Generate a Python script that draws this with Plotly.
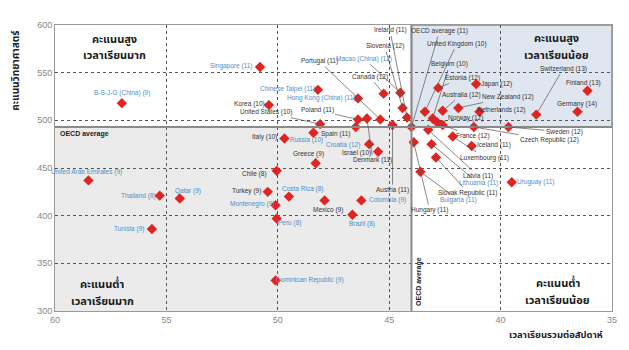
import plotly.graph_objects as go

# ---- data ----
countries = [
    "B-S-J-G (China) (9)", "Singapore (11)", "Chinese Taipei (11)", "Korea (10)",
    "Hong Kong (China) (11)", "United States (10)", "Poland (11)", "Denmark (11)",
    "Portugal (11)", "Macao (China) (12)", "Canada (12)", "Slovenia (12)",
    "Ireland (11)", "Austria (11)", "Spain (11)", "Italy (10)", "Russia (10)",
    "Croatia (12)", "Israel (10)", "Greece (9)", "Chile (8)", "Turkey (9)",
    "Costa Rica (8)", "Montenegro (9)", "Peru (8)", "Mexico (9)", "Brazil (8)",
    "Colombia (9)", "Dominican Republic (9)", "United Arab Emirates (9)",
    "Thailand (8)", "Qatar (9)", "Tunisia (9)", "OECD average (11)",
    "United Kingdom (10)", "Belgium (10)", "Estonia (12)", "Japan (12)",
    "Australia (12)", "New Zealand (12)", "Netherlands (12)", "Norway (12)",
    "Switzerland (13)", "Finland (13)", "Germany (14)", "Sweden (12)",
    "Czech Republic (12)", "France (12)", "Iceland (11)", "Luxembourg (11)",
    "Latvia (11)", "Lithuania (11)", "Slovak Republic (11)", "Bulgaria (11)",
    "Hungary (11)", "Uruguay (11)",
]
learning_hours = [
    57.0, 50.8, 48.2, 50.4, 46.4, 48.1, 46.4, 46.0, 45.4, 44.5, 45.25, 44.4,
    44.2, 44.85, 46.5, 49.7, 48.4, 45.9, 45.5, 48.3, 50.05, 50.45, 49.5, 50.1,
    50.05, 47.9, 46.65, 46.25, 50.1, 58.5, 55.3, 54.4, 55.65, 44.0,
    43.4, 43.05, 42.8, 41.1, 42.6, 41.9, 40.95, 42.85, 38.4, 36.1, 36.55,
    39.65, 41.2, 42.6, 41.3, 42.15, 43.25, 43.1, 42.9, 43.6, 43.9, 39.5,
]
science_score = [
    518, 556, 532, 516, 523, 496, 501, 502, 501, 529, 528, 513,
    503, 495, 493, 481, 487, 475, 467, 455, 447, 425, 420, 411,
    397, 416, 401, 416, 332, 437, 421, 418, 386, 493,
    509, 502, 534, 538, 510, 513, 509, 498, 506, 531, 509,
    493, 493, 495, 473, 483, 490, 475, 461, 446, 477, 435,
]
partner = [
    1, 1, 1, 0, 1, 0, 0, 0, 0, 1, 0, 0, 0, 0, 0, 0, 1, 1, 0, 0, 0, 0, 1, 1,
    1, 0, 1, 1, 1, 1, 1, 1, 1, 0, 0, 0, 0, 0, 0, 0, 0, 0, 0, 0, 0, 0, 0, 0,
    0, 0, 0, 1, 0, 1, 0, 1,
]
oecd_hours = 44.0
oecd_score = 493

x_ticks = [60, 55, 50, 45, 40, 35]
y_ticks = [300, 350, 400, 450, 500, 550, 600]

quadrant_lines = [
    ("คะแนนสูง", "เวลาเรียนมาก"),
    ("คะแนนสูง", "เวลาเรียนน้อย"),
    ("คะแนนต่ำ", "เวลาเรียนมาก"),
    ("คะแนนต่ำ", "เวลาเรียนน้อย"),
]

# ---- label placement (pixel offsets of label centre from marker; leader line flag) ----
label_dx = [
    0, -28, -30, -19, -37, -54, -41, 6, -61, -36, -14, -18,
    -17, 0, -20, -20, -7, -26, -22, -7, -22, -21, 14, -24,
    13, 3, 10, 26, 34, -2, -21, 8, -23, 28,
    32, 17, 24, 20, 19, 50, 22, 28, 27, -4, 0,
    56, 76, 30, 22, 32, 50, 47, 32, 38, 16, 24,
]
label_dy = [
    -10, -1, -1, -1, 0, -12, -9, 42, -58, -34, -17, -62,
    -87, 65, 7, -1, 7, 1, 1, -9, 3, -1, -8, -1,
    4, 10, 9, 0, 0, -8, 0, -8, 0, -96,
    -68, -54, -10, 0, -16, -11, -2, -4, -46, -8, -8,
    5, 13, 11, -1, 21, 46, 39, 35, 28, 68, 0,
]
leader = [
    0, 0, 0, 0, 0, 1, 1, 1, 1, 1, 1, 1, 1, 1, 0, 0, 0, 0, 0, 0, 0, 0, 0, 0,
    0, 0, 0, 0, 0, 0, 0, 0, 0, 1, 1, 1, 1, 0, 1, 1, 0, 1, 1, 0, 0, 1, 1, 1,
    0, 1, 1, 1, 1, 1, 1, 0,
]
# caption positions (paper fractions): x, y of first line, y of second line
quadrant_pos = [(0.1075, 0.948, 0.892), (0.900, 0.952, 0.895),
                (0.085, 0.093, 0.034), (0.903, 0.097, 0.038)]

FONT = "Liberation Sans, Arial, sans-serif"
THAI = "Noto Sans Thai, Loma, Tahoma, DejaVu Sans, sans-serif"
BLUE = "#4a90c8"
DARK = "#333333"
LBL = 6.5

fig = go.Figure()

# shaded quadrants
fig.add_shape(type="rect", x0=oecd_hours, x1=35, y0=oecd_score, y1=600,
              fillcolor="#dfe6f0", line=dict(color="#8a8a8a", width=1.5), layer="below")
fig.add_shape(type="rect", x0=60, x1=oecd_hours, y0=300, y1=oecd_score,
              fillcolor="#ebebeb", line=dict(width=0), layer="below")
# OECD average lines
fig.add_shape(type="line", x0=60, x1=35, y0=oecd_score, y1=oecd_score,
              line=dict(color="#8a8a8a", width=2))
fig.add_shape(type="line", x0=oecd_hours, x1=oecd_hours, y0=300, y1=600,
              line=dict(color="#8a8a8a", width=2))

fig.add_trace(go.Scatter(
    x=learning_hours, y=science_score, mode="markers",
    marker=dict(symbol="diamond", size=8, color="#e3231f"),
    hovertext=countries, showlegend=False, cliponaxis=False,
))

anns = []
for name, hx, sy, dx, dy, ld, pt in zip(countries, learning_hours, science_score,
                                         label_dx, label_dy, leader, partner):
    col = BLUE if pt else DARK
    if ld:
        anns.append(dict(x=hx, y=sy, xref="x", yref="y", text=name, showarrow=True,
                         ax=dx, ay=dy, arrowhead=0, arrowwidth=0.7, arrowcolor="#555",
                         standoff=0, font=dict(family=FONT, size=LBL, color=col)))
    else:
        anns.append(dict(x=hx, y=sy, xref="x", yref="y", text=name, showarrow=False,
                         xshift=dx, yshift=-dy, font=dict(family=FONT, size=LBL, color=col)))

# quadrant captions (two separate lines each)
qfont = dict(family=THAI, size=11, color="#1a1a1a")
for (l1, l2), (qx, qy1, qy2) in zip(quadrant_lines, quadrant_pos):
    for t, qy in ((l1, qy1), (l2, qy2)):
        anns.append(dict(x=qx, y=qy, xref="paper", yref="paper", text=f"<b>{t}</b>",
                         showarrow=False, xanchor="center", yanchor="middle", font=qfont))

anns.append(dict(x=60, y=oecd_score, xref="x", yref="y", text="<b>OECD average</b>",
                 showarrow=False, xanchor="left", yanchor="top", xshift=3, yshift=-1,
                 font=dict(family=FONT, size=7, color="#222")))
anns.append(dict(x=oecd_hours, y=300, xref="x", yref="y", text="<b>OECD average</b>",
                 showarrow=False, textangle=-90, xanchor="left", yanchor="bottom",
                 xshift=1, yshift=3, font=dict(family=FONT, size=7, color="#222")))

anns.append(dict(x=-0.07, y=0.84, xref="paper", yref="paper",
                 text="<b>คะแนนวิทยาศาสตร์</b>", showarrow=False, textangle=-90,
                 xanchor="center", yanchor="middle",
                 font=dict(family=THAI, size=10, color="#222")))
anns.append(dict(x=0.9, y=-0.085, xref="paper", yref="paper",
                 text="<b>เวลาเรียนรวมต่อสัปดาห์</b>", showarrow=False,
                 xanchor="center", yanchor="middle",
                 font=dict(family=THAI, size=9.5, color="#222")))

# page body has an 8px margin, so the figure is sized/margined to land the plot
# area where it sits in the 629x350 reference
fig.update_layout(
    width=621, height=342,
    margin=dict(l=47, r=16, t=13, b=39),
    paper_bgcolor="white", plot_bgcolor="white",
    annotations=anns,
    xaxis=dict(range=[60, 35], tickvals=x_ticks, showgrid=True, gridcolor="#555",
               griddash="dot", gridwidth=1, zeroline=False, showline=True,
               linecolor="#999", linewidth=1, mirror=True, ticks="",
               tickfont=dict(family=FONT, size=9, color="#888")),
    yaxis=dict(range=[300, 600], tickvals=y_ticks, showgrid=True, gridcolor="#555",
               griddash="dot", gridwidth=1, zeroline=False, showline=True,
               linecolor="#999", linewidth=1, mirror=True, ticks="",
               tickfont=dict(family=FONT, size=9, color="#888")),
)

fig.write_html("out.html")
